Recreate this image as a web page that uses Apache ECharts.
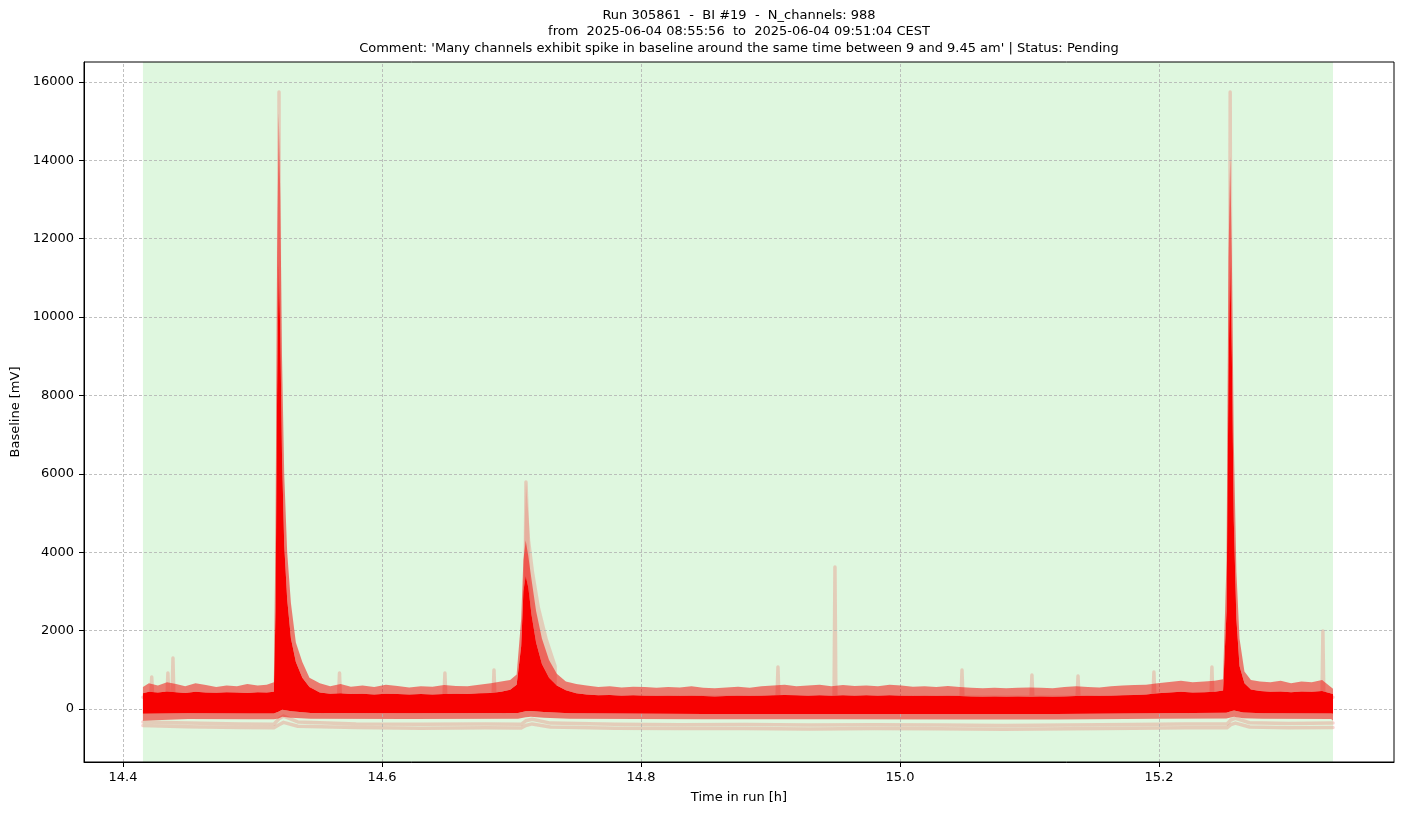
<!DOCTYPE html>
<html>
<head>
<meta charset="utf-8">
<title>Baseline run 305861</title>
<script src="https://cdn.jsdelivr.net/npm/echarts@6/dist/echarts.min.js"></script>
<style>
  html, body { margin: 0; padding: 0; background: #fff; }
  #chart { width: 1403px; height: 815px; }
</style>
</head>
<body>
<div id="chart"></div>
<script>
// ---- data ----
const titleLines = [
  'Run 305861  -  BI #19  -  N_channels: 988',
  'from  2025-06-04 08:55:56  to  2025-06-04 09:51:04 CEST',
  "Comment: 'Many channels exhibit spike in baseline around the same time between 9 and 9.45 am' | Status: Pending"
];
const xTicks = [14.4, 14.6, 14.8, 15.0, 15.2];
const yTicks = [0, 2000, 4000, 6000, 8000, 10000, 12000, 14000, 16000];
const xRange = [14.3699, 15.3815];
const yRange = [-1352, 16510];
const goodBand = [14.4154, 15.3344]; // green span (run interval)

// top edges of the dense channel mass
const tTop = [
  14.4154, 14.420, 14.427, 14.434, 14.441, 14.448, 14.456, 14.464, 14.472, 14.480,
  14.488, 14.496, 14.504, 14.511, 14.5165,
  14.5178, 14.5190, 14.5203, 14.5215, 14.5228, 14.5245, 14.5268, 14.5297, 14.5335, 14.5385, 14.5440,
  14.552, 14.560, 14.568, 14.576, 14.585, 14.594, 14.603, 14.612, 14.621, 14.630,
  14.639, 14.648, 14.657, 14.666, 14.675, 14.684, 14.692, 14.699, 14.704,
  14.7075, 14.7092, 14.7110, 14.7130, 14.7155, 14.7190, 14.7235, 14.7290, 14.7350, 14.7420,
  14.750, 14.758, 14.767, 14.776, 14.785, 14.794, 14.803, 14.812, 14.821, 14.830,
  14.839, 14.848, 14.857, 14.866, 14.875, 14.884, 14.893, 14.902, 14.911, 14.920,
  14.929, 14.938, 14.947, 14.956, 14.965, 14.974, 14.983, 14.992, 15.001, 15.010,
  15.019, 15.028, 15.037, 15.046, 15.055, 15.064, 15.073, 15.082, 15.091, 15.100,
  15.109, 15.118, 15.127, 15.136, 15.145, 15.154, 15.163, 15.172, 15.181, 15.190,
  15.199, 15.208, 15.217, 15.226, 15.235, 15.243, 15.2495,
  15.2522, 15.2537, 15.2550, 15.2563, 15.2578, 15.2598, 15.2622, 15.2660, 15.2710,
  15.278, 15.286, 15.294, 15.302, 15.310, 15.318, 15.326, 15.3344
];
const solidTop = [
  400, 440, 420, 450, 430, 410, 440, 420, 415, 430,
  420, 410, 430, 420, 440,
  2500, 8000, 11500, 9500, 6500, 4200, 2800, 1800, 1200, 800, 560,
  420, 390, 400, 380, 390, 370, 390, 380, 370, 385,
  370, 380, 390, 380, 400, 410, 440, 490, 620,
  1600, 3000, 3400, 3100, 2400, 1700, 1150, 800, 600, 480,
  400, 370, 350, 360, 340, 350, 340, 330, 340, 330,
  340, 330, 320, 330, 340, 330, 340, 350, 360, 350,
  340, 350, 340, 350, 340, 350, 340, 350, 340, 330,
  340, 330, 340, 330, 320, 310, 320, 310, 320, 310,
  320, 310, 320, 330, 340, 330, 340, 350, 360, 370,
  400, 420, 440, 420, 430, 440, 470,
  2500, 8500, 11500, 9000, 4800, 2300, 1100, 660, 500,
  460, 440, 450, 430, 450, 440, 460, 380
];
const fringeTop = [
  560, 660, 600, 680, 640, 580, 660, 610, 560, 600,
  580, 640, 600, 620, 680,
  4500, 11500, 15200, 13000, 9000, 6000, 4000, 2700, 1700, 1200, 800,
  660, 580, 640, 570, 600, 560, 620, 590, 550, 580,
  570, 610, 590, 580, 620, 660, 700, 740, 880,
  2300, 3800, 4300, 3900, 3300, 2500, 1800, 1250, 900, 700,
  640, 600, 560, 580, 550, 570, 560, 540, 560, 550,
  580, 540, 530, 550, 570, 540, 580, 600, 620, 580,
  600, 620, 580, 610, 590, 600, 580, 620, 600, 570,
  580, 560, 590, 560, 540, 530, 540, 530, 540, 550,
  540, 530, 560, 580, 560, 550, 580, 600, 610, 620,
  660, 690, 720, 680, 700, 720, 760,
  3800, 11500, 14100, 11500, 6800, 3500, 1800, 960, 740,
  700, 680, 720, 660, 700, 680, 740, 520
];

// bottom edges of the dense mass
const tLow = [
  14.4154, 14.45, 14.50, 14.5165, 14.5200, 14.5230, 14.5300, 14.545, 14.62, 14.705,
  14.7110, 14.7150, 14.725, 14.745, 14.85, 14.95, 15.05, 15.12, 15.20, 15.252,
  15.2563, 15.2580, 15.265, 15.28, 15.333, 15.3344
];
const solidLow = [
  -120, -110, -115, -115, -70, -20, -60, -100, -105, -100,
  -60, -50, -75, -110, -125, -125, -128, -130, -110, -95,
  -50, -40, -90, -105, -115, -120
];
const haloLow = [
  -300, -255, -260, -260, -240, -200, -220, -250, -252, -250,
  -210, -200, -225, -250, -262, -262, -265, -268, -248, -240,
  -210, -200, -235, -248, -255, -300
];

// pale spread of the few channels on top of the second spike
const tSpread = [14.7085, 14.7100, 14.7112, 14.7125, 14.7145, 14.7175, 14.7220, 14.7280, 14.7350];
const spreadTop = [1500, 4500, 5792, 5200, 4300, 3500, 2600, 1800, 1100];
const spreadLow = [600, 600, 600, 600, 600, 600, 600, 600, 600];

// a few separate faint channels
const tFaint = [
  14.4154, 14.4215, 14.4222, 14.4229, 14.4340, 14.4347, 14.4354, 14.4379, 14.4386, 14.4393,
  14.5195, 14.5205, 14.5215, 14.5665, 14.5672, 14.5679, 14.6479, 14.6486, 14.6493,
  14.6858, 14.6865, 14.6872, 14.7098, 14.7112, 14.7125, 14.7140,
  14.9051, 14.9058, 14.9065, 14.9491, 14.9498, 14.9505, 15.0472, 15.0479, 15.0486,
  15.1012, 15.1019, 15.1026, 15.1368, 15.1375, 15.1382, 15.1954, 15.1961, 15.1968,
  15.2402, 15.2409, 15.2416, 15.2540, 15.2550, 15.2560, 15.3259, 15.3266, 15.3273, 15.3344
];
const faintHigh = [
  300, 300, 816, 300, 300, 918, 300, 300, 1300, 300,
  300, 15744, 300, 300, 920, 300, 300, 920, 300,
  300, 995, 300, 300, 5792, 4500, 300,
  300, 1072, 300, 300, 3623, 300, 300, 995, 300,
  300, 868, 300, 300, 842, 300, 300, 944, 300,
  300, 1072, 300, 300, 15744, 300, 300, 1990, 300, 300
];
const tLowLines = [
  14.4154, 14.45, 14.49, 14.5165, 14.5205, 14.5240, 14.535, 14.58, 14.63, 14.68,
  14.7075, 14.711, 14.716, 14.73, 14.78, 14.83, 14.88, 14.93, 14.98, 15.03,
  15.08, 15.13, 15.18, 15.22, 15.2525, 15.2555, 15.2590, 15.27, 15.30, 15.3344
];
const faintLowA = [
  -330, -360, -380, -390, -250, -180, -330, -380, -390, -385,
  -390, -300, -260, -360, -390, -400, -395, -410, -400, -410,
  -420, -410, -395, -380, -380, -280, -240, -350, -370, -360
];
const faintLowB = [
  -420, -450, -470, -480, -400, -340, -440, -470, -490, -480,
  -485, -420, -380, -460, -490, -500, -495, -510, -500, -505,
  -515, -505, -490, -480, -480, -400, -360, -460, -480, -470
];

// ---- chart ----
const FONT = 'DejaVu Sans';
const FAINT = 'rgba(240,110,100,0.3)';
const gridBox = { left: 84, right: 9, top: 62, bottom: 53 };
const W = 1403;
const plotCenter = gridBox.left + (W - gridBox.left - gridBox.right) / 2;

function pairs(xs, ys) {
  return xs.map((x, i) => [x, ys[i]]);
}

// filled region between an upper and a lower edge, placed with the axes' scales
function fillBetween(name, tUp, vUp, tDown, vDown, color, z) {
  return {
    name: name,
    type: 'custom',
    z: z,
    silent: true,
    clip: true,
    data: [[tUp[0], vUp[0]]],
    renderItem: function (params, api) {
      const pts = [];
      for (let i = 0; i < tUp.length; i++) pts.push(api.coord([tUp[i], vUp[i]]));
      for (let i = tDown.length - 1; i >= 0; i--) pts.push(api.coord([tDown[i], vDown[i]]));
      return { type: 'polygon', shape: { points: pts }, style: { fill: color } };
    }
  };
}

function faintLine(name, xs, ys) {
  return {
    name: name,
    type: 'line',
    z: 3,
    silent: true,
    symbol: 'none',
    data: pairs(xs, ys),
    lineStyle: { color: FAINT, width: 3.5, cap: 'round', join: 'round' }
  };
}

const chart = echarts.init(document.getElementById('chart'));
chart.setOption({
  animation: false,
  backgroundColor: '#fff',
  textStyle: { fontFamily: FONT },
  graphic: [{
    type: 'text',
    x: plotCenter,
    y: 7,
    style: {
      text: titleLines.join('\n'),
      align: 'center',
      fontFamily: FONT,
      fontSize: 13,
      lineHeight: 16.5,
      fill: '#000'
    }
  }],
  grid: Object.assign({ show: true, borderColor: '#000', borderWidth: 1, z: 10 }, gridBox),
  xAxis: {
    type: 'value',
    min: xRange[0],
    max: xRange[1],
    z: 10,
    name: 'Time in run [h]',
    nameLocation: 'middle',
    nameGap: 29,
    nameTextStyle: { fontFamily: FONT, fontSize: 13, color: '#000' },
    axisLine: { show: true, onZero: false, lineStyle: { color: '#000', width: 1 } },
    axisTick: { show: true, inside: false, length: 5, customValues: xTicks, lineStyle: { color: '#000' } },
    axisLabel: {
      customValues: xTicks, margin: 9, fontFamily: FONT, fontSize: 13, color: '#000',
      formatter: v => v.toFixed(1)
    },
    splitLine: { show: false }
  },
  yAxis: {
    type: 'value',
    min: yRange[0],
    max: yRange[1],
    z: 10,
    name: 'Baseline [mV]',
    nameLocation: 'middle',
    nameGap: 61,
    nameTextStyle: { fontFamily: FONT, fontSize: 13, color: '#000' },
    axisLine: { show: true, onZero: false, lineStyle: { color: '#000', width: 1 } },
    axisTick: { show: true, inside: false, length: 5, customValues: yTicks, lineStyle: { color: '#000' } },
    axisLabel: {
      customValues: yTicks, margin: 10, fontFamily: FONT, fontSize: 13, color: '#000',
      formatter: v => String(v)
    },
    splitLine: { show: false }
  },
  series: [
    {
      name: 'run span',
      type: 'line',
      z: 1,
      silent: true,
      symbol: 'none',
      data: [[goodBand[0], 0]],
      lineStyle: { width: 0 },
      markArea: {
        silent: true,
        itemStyle: { color: '#dff7df' },
        data: [[{ xAxis: goodBand[0] }, { xAxis: goodBand[1] }]]
      }
    },
    {
      name: 'grid',
      type: 'line',
      z: 2,
      silent: true,
      symbol: 'none',
      data: [[goodBand[0], 0]],
      lineStyle: { width: 0 },
      markLine: {
        silent: true,
        symbol: ['none', 'none'],
        label: { show: false },
        lineStyle: { color: '#b0b0b0', width: 0.8, type: [3, 2] },
        data: yTicks.map(v => ({ yAxis: v })).concat(xTicks.map(v => ({ xAxis: v })))
      }
    },
    faintLine('faint low A', tLowLines, faintLowA),
    faintLine('faint low B', tLowLines, faintLowB),
    faintLine('faint high', tFaint, faintHigh),
    fillBetween('spike spread', tSpread, spreadTop, tSpread, spreadLow, FAINT, 3),
    fillBetween('lower halo', tLow, solidLow, tLow, haloLow, 'rgba(245,0,0,0.5)', 4),
    fillBetween('dense channels', tTop, solidTop, tLow, solidLow, '#f70000', 5),
    fillBetween('upper fringe', tTop, fringeTop, tTop, solidTop, 'rgba(245,0,0,0.5)', 5)
  ]
});
</script>
</body>
</html>
